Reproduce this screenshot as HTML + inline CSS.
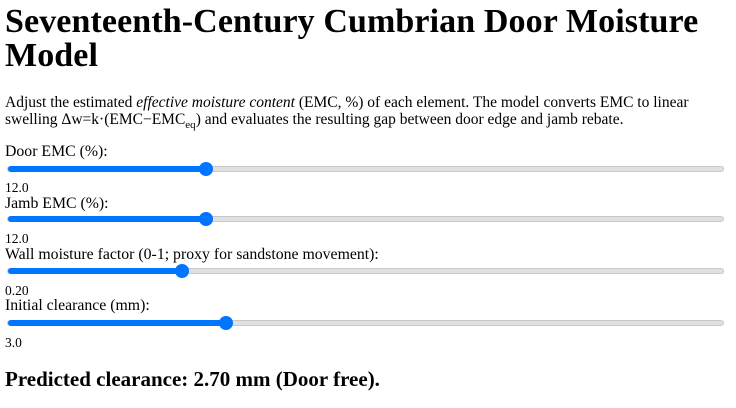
<!DOCTYPE html>
<html><head><meta charset="utf-8"><style>
body{margin:0;width:736px;height:408px;background:#fff;font-family:"Liberation Serif",serif;color:#000;position:relative;overflow:hidden}
.a{position:absolute;left:5px;white-space:nowrap}
h1{position:absolute;left:5px;top:5px;margin:0;font-size:34px;line-height:34px;font-weight:bold;width:720px;letter-spacing:0.1px}
p{position:absolute;left:5px;top:94px;margin:0;font-size:15.5px;line-height:17px;width:705px}
.lab{font-size:15.8px}
.val{font-size:13.5px}
.track{position:absolute;left:7px;width:717px;height:6px;background:#e0e0e0;border:1px solid #c8c8c8;border-radius:4px;box-sizing:border-box}
.fill{position:absolute;left:0;top:-1px;height:6px;background:#0075ff;border-radius:4px}
.thumb{position:absolute;width:14px;height:14px;border-radius:50%;background:#0075ff;top:-5px;margin-left:-7px}
.res{font-size:21px;font-weight:bold}
</style></head><body>
<h1>Seventeenth-Century Cumbrian Door Moisture Model</h1>
<p>Adjust the estimated <i>effective moisture content</i> (EMC, %) of each element. The model converts EMC to linear swelling Δw=k·(EMC−EMC<sub style="font-size:11px;line-height:0">eq</sub>) and evaluates the resulting gap between door edge and jamb rebate.</p>

<div class="a lab" style="top:143px">Door EMC (%):</div>
<div class="track" style="top:166px"><div class="fill" style="width:198px"></div><div class="thumb" style="left:198px"></div></div>
<div class="a val" style="top:180px">12.0</div>

<div class="a lab" style="top:195px">Jamb EMC (%):</div>
<div class="track" style="top:216px"><div class="fill" style="width:198px"></div><div class="thumb" style="left:198px"></div></div>
<div class="a val" style="top:231px">12.0</div>

<div class="a lab" style="top:246px">Wall moisture factor (0-1; proxy for sandstone movement):</div>
<div class="track" style="top:268px"><div class="fill" style="width:174px"></div><div class="thumb" style="left:174px"></div></div>
<div class="a val" style="top:283px">0.20</div>

<div class="a lab" style="top:297px">Initial clearance (mm):</div>
<div class="track" style="top:320px"><div class="fill" style="width:218px"></div><div class="thumb" style="left:218px"></div></div>
<div class="a val" style="top:335px">3.0</div>

<div class="a res" style="top:367px">Predicted clearance: 2.70 mm (Door free).</div>
</body></html>
